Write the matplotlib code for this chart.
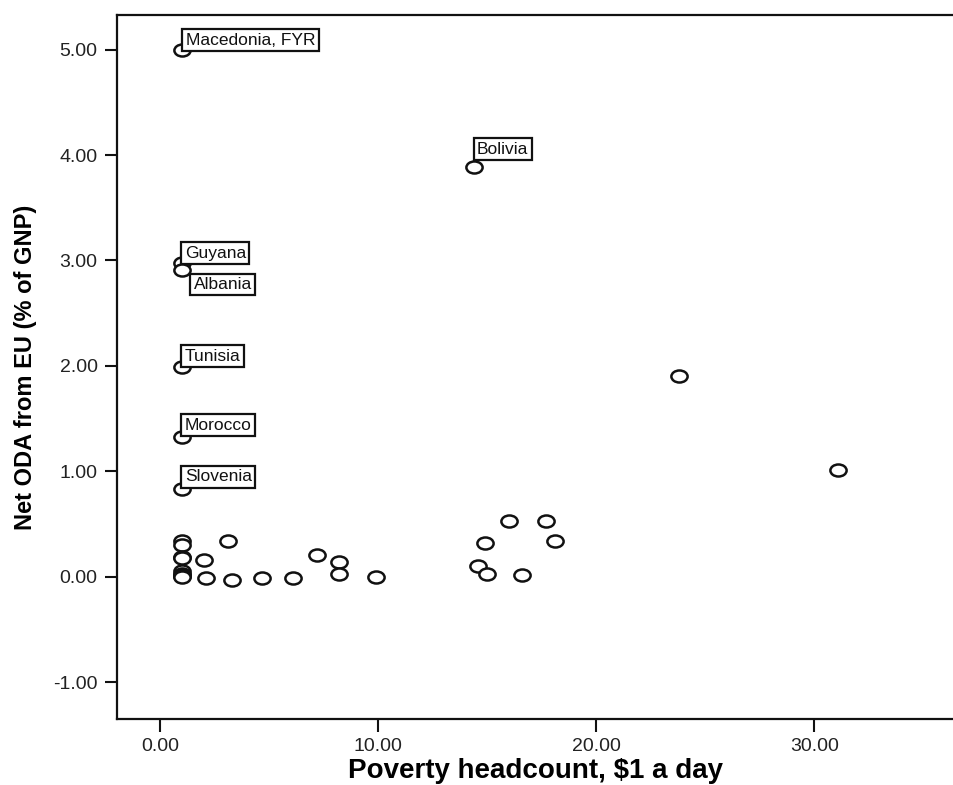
import matplotlib.pyplot as plt
from matplotlib.markers import MarkerStyle
from matplotlib.transforms import Affine2D

# poverty headcount ($1 a day) and net ODA from EU (% of GNP)
poverty = [1.0, 14.4, 1.0, 1.0, 1.0, 1.0, 1.0, 31.1, 23.8,
           1.0, 1.0, 1.0, 1.0, 1.0, 1.0, 1.0, 1.0, 1.0,
           2.0, 3.1, 2.1, 3.3, 4.7, 6.1, 7.2, 8.2, 8.2, 9.9,
           16.0, 17.7, 14.9, 18.1, 14.6, 15.0, 16.6]
oda = [5.00, 3.89, 2.98, 2.91, 1.99, 1.33, 0.83, 1.01, 1.90,
       0.34, 0.30, 0.19, 0.18, 0.05, 0.03, 0.02, 0.01, 0.00,
       0.16, 0.34, -0.01, -0.03, -0.01, -0.01, 0.21, 0.14, 0.03, 0.00,
       0.53, 0.53, 0.32, 0.34, 0.10, 0.03, 0.02]

# labelled countries: name, x, y, label offset (pixels), vertical alignment
labels = [("Macedonia, FYR", 1.0, 5.00, 4, 2, "bottom"),
          ("Bolivia", 14.4, 3.89, 3, 10, "bottom"),
          ("Guyana", 1.0, 2.98, 3, 2, "bottom"),
          ("Albania", 1.0, 2.91, 12, -7, "top"),
          ("Tunisia", 1.0, 1.99, 3, 3, "bottom"),
          ("Morocco", 1.0, 1.33, 3, 4, "bottom"),
          ("Slovenia", 1.0, 0.83, 3, 5, "bottom")]

plt.rcParams["font.family"] = ["Liberation Sans", "DejaVu Sans"]

fig = plt.figure(figsize=(9.54, 7.85), dpi=100)
ax = fig.add_axes([0.1226, 0.0841, 0.8774, 0.8969])

# SPSS draws slightly wide circles
circle = MarkerStyle("o", transform=Affine2D().scale(1.35, 1.0))
ax.scatter(poverty, oda, marker=circle, s=75, facecolors="white",
           edgecolors="#111111", linewidths=1.8, zorder=3)

for name, x, y, dx, dy, va in labels:
    ax.annotate(name, (x, y), xytext=(dx, dy), textcoords="offset pixels",
                ha="left", va=va, fontsize=12.5, color="#111111", zorder=4,
                bbox=dict(boxstyle="square,pad=0.2", fc="white", ec="#111111", lw=1.6))

ax.set_xlim(-1.97, 36.4)
ax.set_ylim(-1.35, 5.33)
ax.set_xticks([0, 10, 20, 30])
ax.set_yticks([-1, 0, 1, 2, 3, 4, 5])
ax.set_xticklabels(["%.2f" % v for v in [0, 10, 20, 30]])
ax.set_yticklabels(["%.2f" % v for v in [-1, 0, 1, 2, 3, 4, 5]])
ax.tick_params(length=9, width=1.5, labelsize=14, colors="#111111", labelcolor="#222222", pad=5)

ax.spines["right"].set_visible(False)
for side in ["left", "top", "bottom"]:
    ax.spines[side].set_linewidth(1.6)
    ax.spines[side].set_color("#111111")

ax.set_xlabel("Poverty headcount, $1 a day", fontsize=20, fontweight="bold", labelpad=2)
ax.set_ylabel("Net ODA from EU (% of GNP)", fontsize=17, fontweight="bold", labelpad=10)
ax.yaxis.set_label_coords(-0.095, 0.5)

fig.savefig("out.png", dpi=100)
